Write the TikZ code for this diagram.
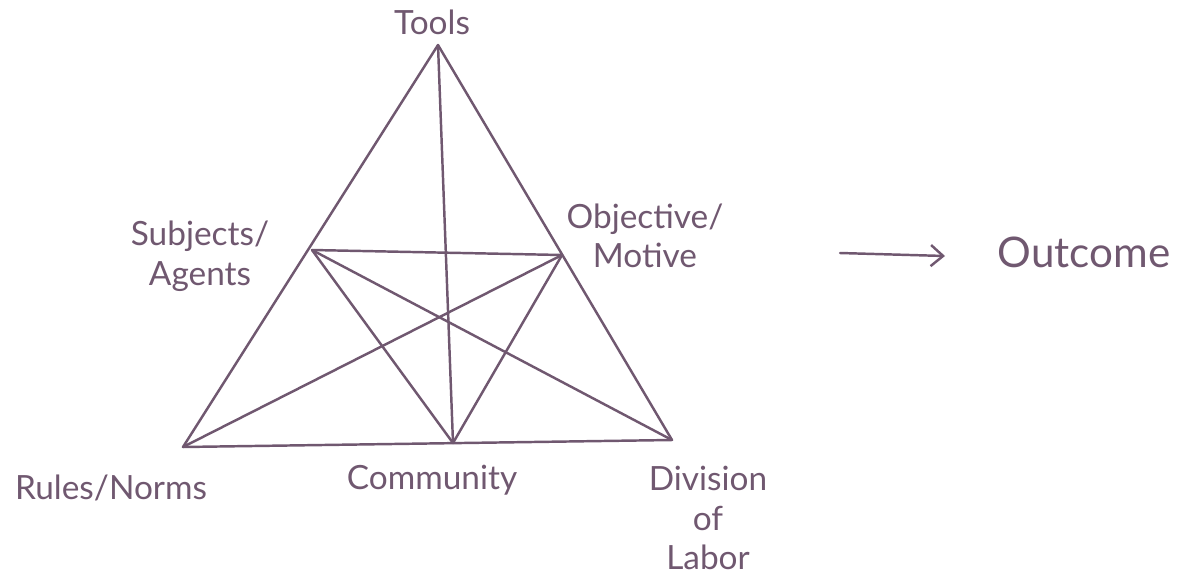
\documentclass[tikz,border=0pt]{standalone}
\usepackage{fontspec}
\setmainfont{Lato}
\usetikzlibrary{arrows.meta}
\definecolor{ink}{RGB}{112,88,112}
\begin{document}
\begin{tikzpicture}[x=0.02cm,y=-0.02cm,
  stroke/.style={draw=ink,line width=1.4pt,line join=round,line cap=round},
  label/.style={text=ink,font=\fontsize{19}{22.5}\selectfont,inner sep=0pt,align=center}]
\useasboundingbox (0,0) rectangle (1183,582);
% triangle corners and side midpoints
\coordinate (T) at (438,45);
\coordinate (BL) at (183,447);
\coordinate (BR) at (672,440);
\coordinate (L) at (312,250);
\coordinate (R) at (562,255);
\coordinate (B) at (453,443);
% outer triangle
\draw[stroke] (T) -- (BL) -- (BR) -- cycle;
% inner connections
\draw[stroke] (T) -- (B);
\draw[stroke] (L) -- (R);
\draw[stroke] (L) -- (BR);
\draw[stroke] (R) -- (BL);
\draw[stroke] (L) -- (B) -- (R);
% labels
\node[label] (tools) at (432,22) {Tools};
\node[label] (subj) at (200,256) {Subjects/\\Agents};
\node[label] (obj) at (645,236) {Objective/\\Motive};
\node[label] (rules) at (111,488) {Rules/Norms};
\node[label] (comm) at (432,480) {Community};
\node[label] (div) at (708,518) {Division\\of\\Labor};
\node[label,font=\fontsize{24}{28}\selectfont] (out) at (1084,252) {Outcome};
% arrow toward the outcome
\coordinate (a0) at (840,253);
\coordinate (a1) at (945,256);
\draw[stroke,-{Straight Barb[length=7pt,width=12pt]}] (a0) -- (a1);
\end{tikzpicture}
\end{document}
